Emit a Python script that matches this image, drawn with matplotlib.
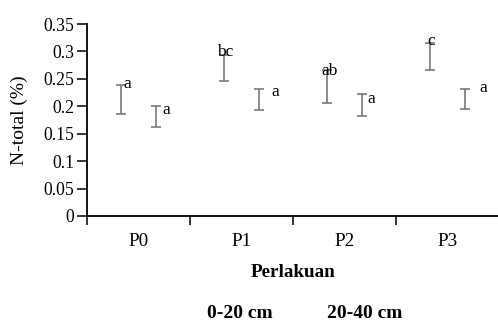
import numpy as np
import matplotlib
matplotlib.use('Agg')
import matplotlib.pyplot as plt
from matplotlib.patches import Patch

# DATA ------------------------------------------------------------------------------------------->
perlakuan = ['P0', 'P1', 'P2', 'P3']
depths = ['0-20 cm', '20-40 cm']
n_0_20 = [0.212, 0.270, 0.236, 0.291]
err_0_20 = [0.026, 0.024, 0.030, 0.024]
n_20_40 = [0.182, 0.212, 0.2025, 0.213]
err_20_40 = [0.019, 0.019, 0.0195, 0.018]
notasi_0_20 = ['a', 'bc', 'ab', 'c']
notasi_20_40 = ['a', 'a', 'a', 'a']
yticks = [0, 0.05, 0.1, 0.15, 0.2, 0.25, 0.3, 0.35]
ytick_labels = ['0', '0.05', '0.1', '0.15', '0.2', '0.25', '0.3', '0.35']

# label offsets in pixels (dx, dy) from the top of each error bar
off_0_20 = [(6, 1), (1, 3), (3, -1), (1, 2)]
off_20_40 = [(10, -4), (16, -3), (9, -5), (18, 1)]

# PLOT ------------------------------------------------------------------------------------------->
plt.rcParams['font.family'] = ['Liberation Serif', 'DejaVu Serif']
plt.rcParams['font.size'] = 12.7

fig = plt.figure(figsize=(4.98, 3.24), dpi=100)
ax = fig.add_axes([87/498, 108/324, 412/498, 192/324])

x = np.arange(len(perlakuan))
w = 0.34
ecol = '#6f6f6f'
b1 = ax.bar(x - w/2, n_0_20, w, color='white', edgecolor='none')
b2 = ax.bar(x + w/2, n_20_40, w, color='white', edgecolor='none')
ax.errorbar(x - w/2, n_0_20, yerr=err_0_20, fmt='none', ecolor=ecol, elinewidth=1.1,
            capsize=3.6, capthick=1.1)
ax.errorbar(x + w/2, n_20_40, yerr=err_20_40, fmt='none', ecolor=ecol, elinewidth=1.1,
            capsize=3.6, capthick=1.1)

for i in range(len(perlakuan)):
    ax.annotate(notasi_0_20[i], (x[i] - w/2, n_0_20[i] + err_0_20[i]),
                xytext=off_0_20[i], textcoords='offset pixels', ha='center', va='center',
                fontsize=12.5)
    ax.annotate(notasi_20_40[i], (x[i] + w/2, n_20_40[i] + err_20_40[i]),
                xytext=off_20_40[i], textcoords='offset pixels', ha='center', va='center',
                fontsize=12.5)

ax.set_xlim(-0.5, 3.5)
ax.set_ylim(0, 0.35)
ax.set_yticks(yticks)
ax.set_yticklabels(ytick_labels)
ax.set_xticks(np.arange(-0.5, 3.6, 1.0))
ax.set_xticklabels([])
ax.set_xticks(x, minor=True)
ax.set_xticklabels(perlakuan, minor=True, fontsize=13.8)
ax.tick_params(axis='x', which='major', length=6.5, width=1.1, direction='out')
ax.tick_params(axis='x', which='minor', length=0, pad=12.5)
ax.tick_params(axis='y', length=7.5, width=1.1, pad=1.5)

for s in ['top', 'right']:
    ax.spines[s].set_visible(False)
for s in ['left', 'bottom']:
    ax.spines[s].set_linewidth(1.3)
    ax.spines[s].set_color('black')
ax.spines['bottom'].set_clip_on(False)

ax.set_ylabel('N-total (%)', fontsize=14)
ax.yaxis.set_label_coords(-0.142, 0.5)
ax.set_xlabel('Perlakuan', fontsize=13.8, fontweight='bold')
ax.xaxis.set_label_coords(0.5, -0.25)

fig.legend([Patch(facecolor='white', edgecolor='none'), Patch(facecolor='white', edgecolor='none')],
           depths, ncol=2, frameon=False, loc='center',
           bbox_to_anchor=(290/498, 11/324), handlelength=1, handletextpad=0.5,
           columnspacing=1.3, borderpad=0.1, prop={'size': 14, 'weight': 'bold'})

fig.savefig('out.png', dpi=100)
